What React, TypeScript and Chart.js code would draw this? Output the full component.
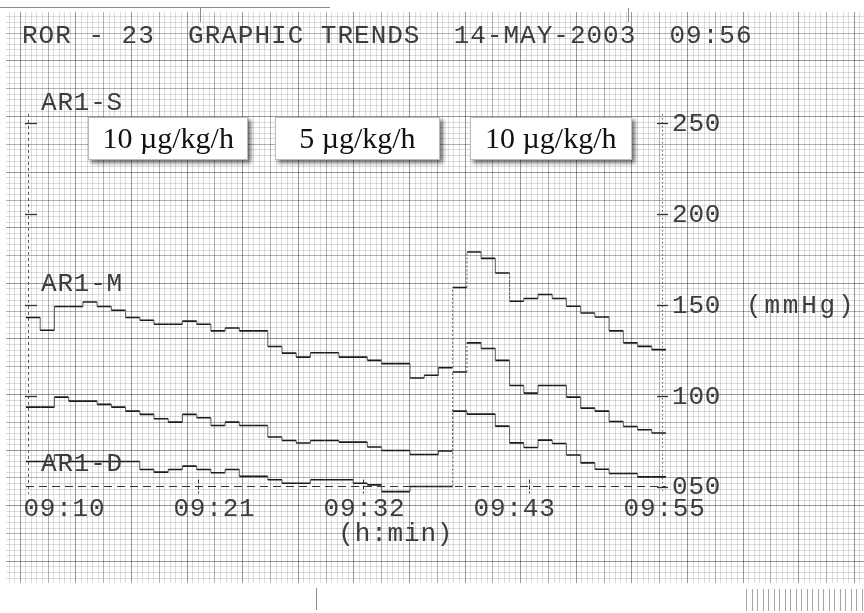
import React, { useEffect, useRef } from "react";
import { Chart, registerables } from "chart.js";

Chart.register(...registerables);

// ---- data (one value per minute, 09:10 .. 09:55) ----
const timeLabels = ["09:10", "09:21", "09:32", "09:43", "09:55"];
const pressureTicks = [50, 100, 150, 200, 250];
const leftAxisTicks = [100, 150, 200, 250];
const channelNames = ["AR1-S", "AR1-M", "AR1-D"];
const doseLabels = ["10 µg/kg/h", "5 µg/kg/h", "10 µg/kg/h"];
const headerText = "ROR - 23  GRAPHIC TRENDS  14-MAY-2003  09:56";
const unitY = "(mmHg)";
const unitX = "(h:min)";
const baselineValue = 50;

const systolic = [
  143, 136, 149, 149, 151.5, 149, 147, 143, 141.5, 139.3, 139.3, 141, 139.3, 135.6, 137.2,
  135.6, 135.6, 127, 123.4, 121.2, 123.6, 123.6, 121.2, 121.2, 119.4, 117.6, 117.6, 109.7,
  111.2, 115.3, 159.5, 179, 175.5, 167.5, 151.9, 153.4, 155.6, 153.4, 149.2, 145.5, 143.3,
  135.6, 129, 127.1, 125.3,
];
const mean = [
  93.7, 93.7, 99.2, 97, 97, 95.2, 93.7, 91.5, 89.7, 87.3, 85.4, 89.7, 87.8, 83.6, 85.4,
  83.6, 83.6, 77.2, 75.3, 73.9, 75.3, 75.3, 74.4, 74.4, 71.7, 69.8, 69.8, 67.6, 67.6, 69.5,
  113, 129, 125.9, 119.4, 105.6, 101.4, 105.6, 105.6, 99.2, 93.1, 91.5, 85.8, 83, 81.2, 79.4,
];
const diastolic = [
  63.8, 63.8, 67.3, 63.8, 63.8, 63.8, 63.8, 63.8, 59.4, 57.9, 59.4, 61.2, 59.4, 57.6, 59.4,
  55.6, 55.6, 53.7, 51.8, 51.8, 53.7, 53.7, 53.7, 51.8, 50.9, 47.2, 47.2, 50, 50, 50,
  91.5, 89.8, 89.8, 83.2, 74, 71.5, 75.5, 73.7, 67.3, 63, 59.5, 57.2, 57.2, 55.3, 55.3,
];
const timeTickMinutes = [12.1, 23.7, 35.4];

function toSteps(values: number[]) {
  const pts: { x: number; y: number }[] = [];
  values.forEach((v, i) => {
    pts.push({ x: i, y: v });
    pts.push({ x: i + 1, y: v });
  });
  return pts;
}

const MONO = "'Liberation Mono', 'DejaVu Sans Mono', monospace";
const INK = "#3d3d3d";

export default function App() {
  const ref = useRef<HTMLCanvasElement | null>(null);

  useEffect(() => {
    document.body.style.margin = "0";
    const canvas = ref.current;
    if (!canvas) return;

    const paperPlugin = {
      id: "paper",
      beforeDraw(chart: any) {
        const ctx = chart.ctx as CanvasRenderingContext2D;
        const W = chart.width;
        ctx.save();
        ctx.fillStyle = "#fff";
        ctx.fillRect(0, 0, W, chart.height);
        const x0 = 6, x1 = W, y0 = 12, y1 = 583;
        const fine = 5.56;
        ctx.lineWidth = 1;
        const col = (r: number) =>
          r === 0 ? "rgba(0,0,0,0.40)" : r === 5 ? "rgba(0,0,0,0.30)" : "rgba(0,0,0,0.13)";
        for (let k = -20; k < 200; k++) {
          const x = 19.8 + k * fine;
          if (x < x0 || x > x1) continue;
          ctx.strokeStyle = col(((k % 10) + 10) % 10);
          ctx.beginPath();
          ctx.moveTo(Math.round(x) + 0.5, y0);
          ctx.lineTo(Math.round(x) + 0.5, y1);
          ctx.stroke();
        }
        for (let k = -20; k < 200; k++) {
          const y = 4.9 + k * fine;
          if (y < y0 || y > y1) continue;
          ctx.strokeStyle = col(((k % 10) + 10) % 10);
          ctx.beginPath();
          ctx.moveTo(x0, Math.round(y) + 0.5);
          ctx.lineTo(x1, Math.round(y) + 0.5);
          ctx.stroke();
        }
        ctx.strokeStyle = "rgba(0,0,0,0.45)";
        ctx.beginPath();
        ctx.moveTo(0, 7.5);
        ctx.lineTo(330, 7.5);
        ctx.moveTo(200.5, 8);
        ctx.lineTo(200.5, 22);
        ctx.moveTo(628.5, 8);
        ctx.lineTo(628.5, 22);
        ctx.moveTo(316.5, 588);
        ctx.lineTo(316.5, 610);
        ctx.stroke();
        ctx.strokeStyle = "rgba(0,0,0,0.35)";
        for (let x = 746; x < W; x += 5.5) {
          ctx.beginPath();
          ctx.moveTo(Math.round(x) + 0.5, 589);
          ctx.lineTo(Math.round(x) + 0.5, 611);
          ctx.stroke();
        }
        ctx.restore();
      },
      beforeDatasetsDraw(chart: any) {
        const ctx = chart.ctx as CanvasRenderingContext2D;
        const xs = chart.scales.x;
        const ys = chart.scales.y;
        const area = chart.chartArea;
        const leftX = area.left + 2;
        const rightX = area.right - 4;
        ctx.save();
        ctx.lineWidth = 1;
        ctx.strokeStyle = "#555";
        ctx.setLineDash([3, 3]);
        ctx.beginPath();
        ctx.moveTo(leftX + 0.5, area.top);
        ctx.lineTo(leftX + 0.5, ys.getPixelForValue(46));
        ctx.stroke();
        ctx.setLineDash([1.5, 2.5]);
        ctx.beginPath();
        ctx.moveTo(rightX + 0.5, area.top);
        ctx.lineTo(rightX + 0.5, ys.getPixelForValue(47.5));
        ctx.stroke();
        ctx.setLineDash([]);
        ctx.strokeStyle = "#333";
        ctx.lineWidth = 1.3;
        leftAxisTicks.forEach((v) => {
          const y = Math.round(ys.getPixelForValue(v)) + 0.5;
          ctx.beginPath();
          ctx.moveTo(leftX - 3, y);
          ctx.lineTo(leftX + 9, y);
          ctx.stroke();
        });
        pressureTicks.forEach((v) => {
          const y = Math.round(ys.getPixelForValue(v)) + 0.5;
          ctx.beginPath();
          ctx.moveTo(rightX - 5, y);
          ctx.lineTo(rightX + 6, y);
          ctx.stroke();
        });
        ctx.lineWidth = 1;
        ctx.setLineDash([4, 2]);
        const yb = ys.getPixelForValue(baselineValue);
        timeTickMinutes.forEach((m) => {
          const x = Math.round(xs.getPixelForValue(m)) + 0.5;
          ctx.beginPath();
          ctx.moveTo(x, yb - 7);
          ctx.lineTo(x, yb + 7);
          ctx.stroke();
        });
        ctx.restore();
      },
      afterDraw(chart: any) {
        const ctx = chart.ctx as CanvasRenderingContext2D;
        const xs = chart.scales.x;
        const ys = chart.scales.y;
        const area = chart.chartArea;
        const rightX = area.right - 4;
        ctx.save();
        ctx.fillStyle = INK;
        ctx.textBaseline = "middle";
        ctx.font = `26px ${MONO}`;
        (ctx as any).letterSpacing = "1px";
        ctx.textAlign = "left";
        ctx.fillText(headerText, 22, 36);

        (ctx as any).letterSpacing = "0.8px";
        pressureTicks.forEach((v) => {
          ctx.fillText(String(v).padStart(3, "0"), rightX + 10, ys.getPixelForValue(v) + 1);
        });
        ctx.textAlign = "center";
        timeLabels.forEach((t, i) => {
          const m = 2.7 + i * 10.55;
          ctx.fillText(t, xs.getPixelForValue(m), 509);
        });
        ctx.fillText(unitX, xs.getPixelForValue(26), 534);
        ctx.textAlign = "left";
        const chanValues = [261, 161.2, 62.2];
        channelNames.forEach((n, i) => {
          ctx.fillText(n, area.left + 15, ys.getPixelForValue(chanValues[i]));
        });
        (ctx as any).letterSpacing = "2.8px";
        ctx.fillText(unitY, 746, ys.getPixelForValue(150) + 1);
        (ctx as any).letterSpacing = "0px";

        const boxCenters = [10, 23.3, 36.9];
        const boxWidths = [160, 165, 162];
        const boxTop = 117;
        const boxH = 43;
        doseLabels.forEach((lab, i) => {
          const cx = xs.getPixelForValue(boxCenters[i]);
          const bw = boxWidths[i];
          const bx = Math.round(cx - bw / 2);
          ctx.save();
          ctx.shadowColor = "rgba(0,0,0,0.55)";
          ctx.shadowBlur = 4;
          ctx.shadowOffsetX = 3;
          ctx.shadowOffsetY = 3;
          ctx.fillStyle = "#fff";
          ctx.fillRect(bx, boxTop, bw, boxH);
          ctx.restore();
          ctx.strokeStyle = "#bbb";
          ctx.lineWidth = 1;
          ctx.strokeRect(bx + 0.5, boxTop + 0.5, bw - 1, boxH - 1);
          ctx.fillStyle = "#111";
          ctx.font = "30px 'Liberation Serif', 'Times New Roman', serif";
          ctx.textAlign = "center";
          ctx.textBaseline = "alphabetic";
          ctx.fillText(lab, cx, boxTop + 31);
        });
        ctx.restore();
      },
    };

    const isVertical = (c: any) => c.p0.parsed.x === c.p1.parsed.x;
    const traceStyle = {
      borderColor: "#1b1b1b",
      borderWidth: 1.6,
      pointRadius: 0,
      tension: 0,
      fill: false,
      borderCapStyle: "butt",
      borderJoinStyle: "miter",
      segment: {
        borderColor: (c: any) => (isVertical(c) ? "#6a6a6a" : undefined),
        borderWidth: (c: any) => (isVertical(c) ? 1.1 : undefined),
        borderDash: (c: any) =>
          isVertical(c) && Math.abs(c.p1.parsed.y - c.p0.parsed.y) > 15 ? [2, 2] : undefined,
      },
    };

    const chart = new Chart(canvas, {
      type: "line",
      data: {
        datasets: [
          {
            label: "baseline",
            data: [
              { x: 0, y: baselineValue },
              { x: 45, y: baselineValue },
            ],
            borderColor: "#333",
            borderWidth: 1.1,
            borderDash: [8, 5],
            pointRadius: 0,
            fill: false,
          },
          { label: channelNames[0], data: toSteps(systolic), ...traceStyle },
          { label: channelNames[1], data: toSteps(mean), ...traceStyle },
          { label: channelNames[2], data: toSteps(diastolic), ...traceStyle },
        ] as any,
      },
      options: {
        responsive: false,
        animation: false,
        layout: { padding: { left: 26, right: 198, top: 113.9, bottom: 117.4 } },
        scales: {
          x: { type: "linear", min: 0, max: 45, display: false },
          y: { type: "linear", min: 45, max: 255, display: false },
        },
        plugins: { legend: { display: false }, tooltip: { enabled: false } },
      },
      plugins: [paperPlugin],
    });
    return () => chart.destroy();
  }, []);

  return <canvas ref={ref} width={864} height={613} style={{ display: "block", width: 864, height: 613 }} />;
}
